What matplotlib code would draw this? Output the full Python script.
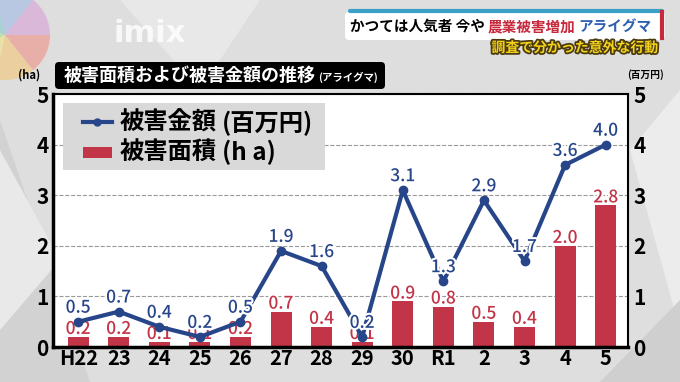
import matplotlib.pyplot as plt
import matplotlib.patheffects as pe
from matplotlib.patches import FancyBboxPatch, Polygon, Wedge
import numpy as np

plt.rcParams['font.family'] = ['Noto Sans CJK JP', 'DejaVu Sans']
plt.rcParams['font.weight'] = 'bold'

years = ['H22', '23', '24', '25', '26', '27', '28', '29', '30', 'R1', '2', '3', '4', '5']
damage_money = [0.5, 0.7, 0.4, 0.2, 0.5, 1.9, 1.6, 0.2, 3.1, 1.3, 2.9, 1.7, 3.6, 4.0]
damage_area = [0.2, 0.2, 0.1, 0.1, 0.2, 0.7, 0.4, 0.1, 0.9, 0.8, 0.5, 0.4, 2.0, 2.8]

blue = '#27468a'
red = '#c23447'

fig = plt.figure(figsize=(6.8, 3.82), dpi=100)
fig.patch.set_facecolor('#dedede')

# 背景の模様
bg = fig.add_axes([0, 0, 1, 1])
bg.set_xlim(0, 680)
bg.set_ylim(382, 0)
bg.axis('off')
for pts, c in [([(0, 120), (90, 382), (0, 382)], '#d2d2d2'),
               ([(120, 0), (260, 0), (200, 90)], '#e8e8e8'),
               ([(630, 150), (680, 90), (680, 330)], '#ececec'),
               ([(600, 382), (680, 300), (680, 382)], '#cfcfcf'),
               ([(0, 150), (60, 260), (0, 330)], '#e9e9e9')]:
    bg.add_patch(Polygon(pts, closed=True, color=c, lw=0))
# 左上の色の円
cols = ['#f08a7a', '#f6c46a', '#f3e77a', '#a8dc8c', '#7cc8c8', '#9bb6e6', '#d69ad8']
for i, c in enumerate(cols):
    bg.add_patch(Wedge((5, 35), 45, i * 360 / 7, (i + 1) * 360 / 7, color=c, alpha=0.55, lw=0))
bg.text(150, 33, 'imix', fontsize=22, color='white', alpha=0.8, ha='center', va='center',
        family='DejaVu Sans', fontweight='bold')

# 右上のテロップ
bg.add_patch(FancyBboxPatch((345, 12), 320, 28, boxstyle='round,pad=0,rounding_size=4',
                            fc='white', ec='none'))
bg.plot([350, 662], [11, 11], color='#3aa0c8', lw=3, solid_capstyle='round')
bg.plot([662, 662], [12, 38], color='#c8283c', lw=3)
bg.text(350, 26, 'かつては人気者 今や', fontsize=10.5, color='black', va='center')
bg.text(488, 26, '農業被害増加', fontsize=10.5, color='#c8283c', va='center')
bg.text(578, 26, 'アライグマ', fontsize=10.5, color='#2f5fb0', va='center')
bg.text(658, 48, '調査で分かった意外な行動', fontsize=10, color='#f2d21a', ha='right', va='center',
        path_effects=[pe.withStroke(linewidth=2.5, foreground='#4a3a10')])

# タイトル
bg.add_patch(FancyBboxPatch((55, 62), 330, 27, boxstyle='round,pad=0,rounding_size=4',
                            fc='black', ec='none'))
bg.text(64, 75.5, '被害面積および被害金額の推移', fontsize=13, color='white', va='center')
bg.text(318, 77, '(アライグマ)', fontsize=7.5, color='white', va='center')
bg.text(29, 75, '(ha)', fontsize=8, color='black', ha='center', va='center')
bg.text(646, 75, '(百万円)', fontsize=7, color='black', ha='center', va='center')

ax = fig.add_axes([0.078, 0.0916, 0.8455, 0.662])
ax.set_facecolor('white')
x = np.arange(len(years))
ax.bar(x, damage_area, width=0.52, color=red, zorder=2)
ax.plot(x, damage_money, color=blue, lw=3, marker='o', ms=6, zorder=3)

stroke = [pe.withStroke(linewidth=3, foreground='white')]
for xi, v in zip(x, damage_area):
    ax.text(xi, v - 0.02, f'{v:.1f}', color=red, fontsize=12.5, ha='center', va='bottom',
            fontweight='medium', path_effects=stroke, zorder=2.5)
for xi, v in zip(x, damage_money):
    ax.text(xi, v + 0.1, f'{v:.1f}', color=blue, fontsize=12.5, ha='center', va='bottom',
            fontweight='medium', path_effects=stroke, zorder=5)

ax.set_xlim(-0.62, 13.55)
ax.set_ylim(0, 5)
ax.set_yticks(range(6))
ax.set_xticks(x)
ax.set_xticklabels(years, fontsize=14.5, fontweight='bold')
ax.tick_params(axis='both', length=0)
ax.tick_params(axis='x', pad=1)
ax.tick_params(axis='y', labelsize=15, pad=3)
ax.grid(axis='y', color='#999999', ls='--', lw=0.8, zorder=0)
for s in ['left', 'bottom']:
    ax.spines[s].set_linewidth(2.5)
for s in ['top', 'right']:
    ax.spines[s].set_linewidth(1.5)

ax2 = ax.twinx()
ax2.set_ylim(0, 5)
ax2.set_yticks(range(6))
ax2.tick_params(axis='y', length=0, labelsize=15, pad=4)
for s in ax2.spines.values():
    s.set_visible(False)

# 凡例
fg = fig.add_axes([0, 0, 1, 1])
fg.set_xlim(0, 680)
fg.set_ylim(382, 0)
fg.axis('off')
fg.add_patch(plt.Rectangle((63, 103), 262, 67, fc='#d9d9d9', ec='none'))
fg.plot([83, 112], [122, 122], color=blue, lw=3)
fg.plot([97], [122], 'o', color=blue, ms=5)
fg.add_patch(plt.Rectangle((83, 147), 29, 11, fc=red, ec='none'))
fg.text(120, 123, '被害金額', fontsize=17.5, color='black', va='center')
fg.text(222, 123, '(百万円)', fontsize=17.5, color='black', va='center')
fg.text(120, 152, '被害面積', fontsize=17.5, color='black', va='center')
fg.text(222, 152, '(h a)', fontsize=17.5, color='black', va='center')

fig.savefig('out.png', dpi=100, facecolor=fig.get_facecolor())
